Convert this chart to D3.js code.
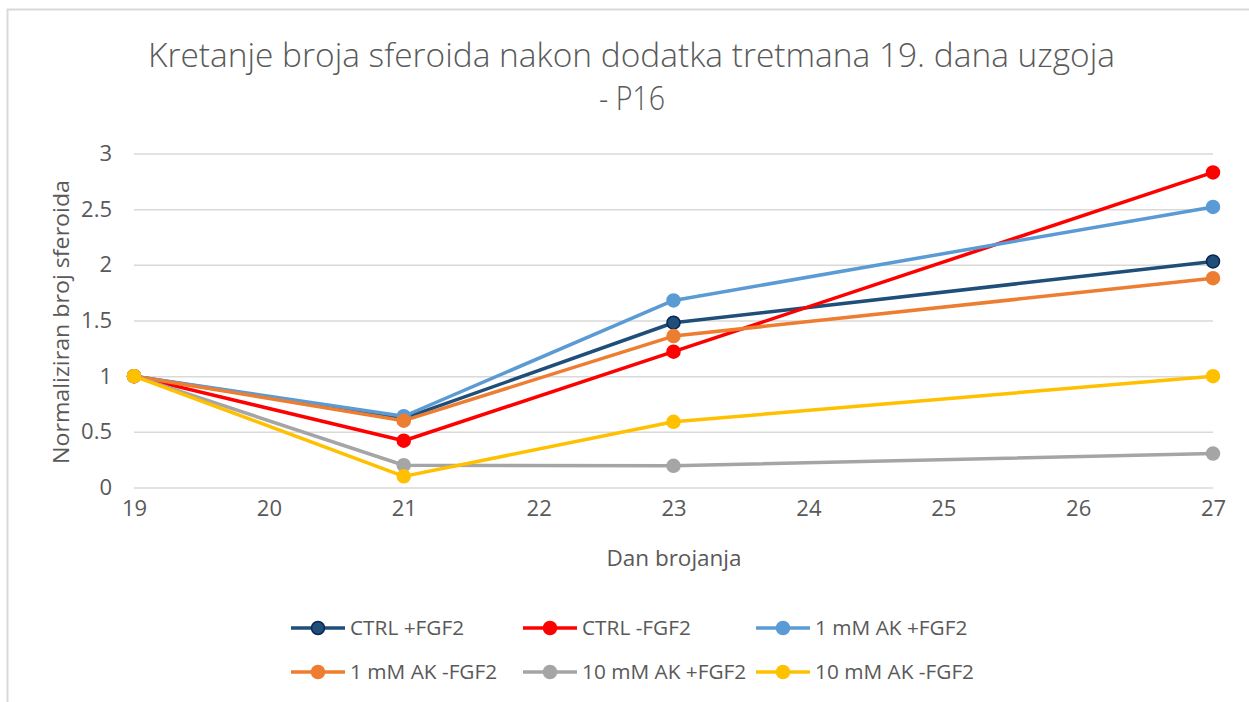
<!DOCTYPE html>
<html>
<head>
<meta charset="utf-8">
<script src="https://cdn.jsdelivr.net/npm/d3@7"></script>
<style>
  html, body { margin: 0; padding: 0; background: #fff; }
  svg { display: block; }
  text { font-family: "Open Sans", "Noto Sans", sans-serif; fill: #595959; }
</style>
</head>
<body>
<svg id="chart" width="1249" height="702"></svg>
<script>
// ---- data ----
const days = [19, 21, 23, 27];
const xTicks = [19, 20, 21, 22, 23, 24, 25, 26, 27];
const yTicks = [0, 0.5, 1, 1.5, 2, 2.5, 3];
const seriesNames = ["CTRL +FGF2", "CTRL -FGF2", "1 mM AK +FGF2", "1 mM AK -FGF2", "10 mM AK +FGF2", "10 mM AK -FGF2"];
const ctrlPlus   = [1, 0.62, 1.48, 2.03];
const ctrlMinus  = [1, 0.42, 1.22, 2.83];
const ak1Plus    = [1, 0.64, 1.68, 2.52];
const ak1Minus   = [1, 0.60, 1.36, 1.88];
const ak10Plus   = [1, 0.20, 0.195, 0.305];
const ak10Minus  = [1, 0.10, 0.59, 1.00];
const seriesValues = [ctrlPlus, ctrlMinus, ak1Plus, ak1Minus, ak10Plus, ak10Minus];
const colors = ["#1f4e79", "#ff0000", "#5b9bd5", "#ed7d31", "#a5a5a5", "#ffc000"];
const markerStrokes = ["#0b2557", "#ff0000", "#5b9bd5", "#ed7d31", "#a5a5a5", "#ffc000"];
const titleLines = ["Kretanje broja sferoida nakon dodatka tretmana 19. dana uzgoja", "- P16"];
const xTitle = "Dan brojanja";
const yTitle = "Normaliziran broj sferoida";

const svg = d3.select("#chart");

// chart border
svg.append("rect").attr("x", 7.5).attr("y", 9.5).attr("width", 1300).attr("height", 800)
  .attr("fill", "none").attr("stroke", "#d9d9d9").attr("stroke-width", 2);

const x = d3.scaleLinear().domain([19, 27]).range([134, 1213]);
const y = d3.scaleLinear().domain([0, 3]).range([487.5, 153.5]);

// title
svg.append("text").attr("x", 631.5).attr("y", 67).attr("text-anchor", "middle")
  .style("font-size", "33px").style("font-weight", 300)
  .attr("textLength", 967).attr("lengthAdjust", "spacingAndGlyphs")
  .text(titleLines[0]);
svg.append("text").attr("x", 632).attr("y", 110).attr("text-anchor", "middle")
  .style("font-size", "33px").style("font-weight", 300)
  .attr("textLength", 66).attr("lengthAdjust", "spacingAndGlyphs")
  .text(titleLines[1]);

// gridlines + axes
const yAxis = d3.axisLeft(y).tickValues(yTicks).tickSize(-(1213 - 134)).tickPadding(22)
  .tickFormat(d => String(d));
const gy = svg.append("g").attr("transform", "translate(134,0)").call(yAxis);
gy.select(".domain").remove();
gy.selectAll(".tick line").attr("stroke", "#d9d9d9").attr("stroke-width", 1.5);
gy.selectAll(".tick text").style("font-size", "22px").attr("fill", "#595959")
  .style("font-family", "'Open Sans', sans-serif");

const xAxis = d3.axisBottom(x).tickValues(xTicks).tickSize(0).tickPadding(13)
  .tickFormat(d => String(d));
const gx = svg.append("g").attr("transform", "translate(0,487.5)").call(xAxis);
gx.select(".domain").remove();
gx.selectAll(".tick text").style("font-size", "22px").attr("fill", "#595959")
  .style("font-family", "'Open Sans', sans-serif");

// axis titles
svg.append("text").attr("x", 674).attr("y", 566).attr("text-anchor", "middle")
  .style("font-size", "22.5px").text(xTitle);
svg.append("text").attr("transform", "translate(69,322) rotate(-90)").attr("text-anchor", "middle")
  .style("font-size", "22.5px").attr("textLength", 284).attr("lengthAdjust", "spacingAndGlyphs")
  .text(yTitle);

// lines
const line = d3.line().x((d, i) => x(days[i])).y(d => y(d));
seriesValues.forEach((vals, si) => {
  const g = svg.append("g");
  g.append("path").datum(vals).attr("d", line).attr("fill", "none")
    .attr("stroke", colors[si]).attr("stroke-width", 3.5).attr("stroke-linejoin", "round");
  g.selectAll("circle").data(vals).join("circle")
    .attr("cx", (d, i) => x(days[i])).attr("cy", d => y(d)).attr("r", 6.5)
    .attr("fill", colors[si]).attr("stroke", markerStrokes[si]).attr("stroke-width", 1.5);
});

// legend
const legX = [291, 523, 756];
const legY = [628, 672];
seriesNames.forEach((name, i) => {
  const cx = legX[i % 3], cy = legY[Math.floor(i / 3)];
  const g = svg.append("g").attr("transform", `translate(${cx},${cy})`);
  g.append("line").attr("x1", 0).attr("x2", 54).attr("y1", 0).attr("y2", 0)
    .attr("stroke", colors[i]).attr("stroke-width", 3.5);
  g.append("circle").attr("cx", 27).attr("cy", 0).attr("r", 6.5)
    .attr("fill", colors[i]).attr("stroke", markerStrokes[i]).attr("stroke-width", 1.5);
  g.append("text").attr("x", 59).attr("y", 0).attr("dy", "0.35em")
    .style("font-size", "20.8px").text(name);
});
</script>
</body>
</html>
